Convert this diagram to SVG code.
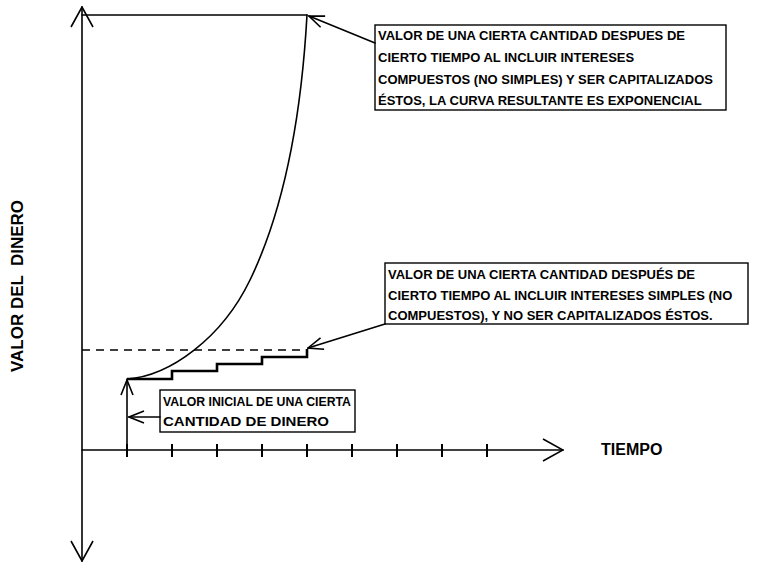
<svg xmlns="http://www.w3.org/2000/svg" width="760" height="564" viewBox="0 0 760 564">
<style>
.ln{fill:none;stroke:#000;stroke-width:1.6;stroke-linecap:round}
.box{fill:#fff;stroke:#000;stroke-width:1.4}
.t{font-family:"Liberation Sans",Arial,sans-serif;font-weight:bold;font-size:13px;fill:#000}
.big{font-size:16px}
.mid{font-size:13.5px}
.tick{stroke:#000;stroke-width:2}
</style>
<defs>
<marker id="ax" viewBox="0 0 22 24" refX="21" refY="12" markerWidth="22" markerHeight="24" orient="auto-start-reverse" markerUnits="userSpaceOnUse">
<path d="M1,1 L21,12 L1,23" fill="none" stroke="#000" stroke-width="1.6"/>
</marker>
<marker id="ar" viewBox="0 0 17 14" refX="16" refY="7" markerWidth="17" markerHeight="14" orient="auto" markerUnits="userSpaceOnUse">
<path d="M1,1 L16,7 L1,13" fill="none" stroke="#000" stroke-width="1.6"/>
</marker>
</defs>
<rect width="760" height="564" fill="#fff"/>

<g id="axes">
<line class="ln" x1="82" y1="561" x2="82" y2="7" marker-start="url(#ax)" marker-end="url(#ax)"/>
<line class="ln" x1="82" y1="450" x2="563" y2="450" marker-end="url(#ax)"/>
<g class="tick">
<line x1="127" y1="444" x2="127" y2="457"/>
<line x1="172" y1="444" x2="172" y2="457"/>
<line x1="217" y1="444" x2="217" y2="457"/>
<line x1="262" y1="444" x2="262" y2="457"/>
<line x1="307" y1="444" x2="307" y2="457"/>
<line x1="352" y1="444" x2="352" y2="457"/>
<line x1="397" y1="444" x2="397" y2="457"/>
<line x1="442" y1="444" x2="442" y2="457"/>
<line x1="487" y1="444" x2="487" y2="457"/>
</g>
<text class="t big" x="601" y="455">TIEMPO</text>
<text class="t big" transform="translate(23,286) rotate(-90)" text-anchor="middle" style="white-space:pre" textLength="172" lengthAdjust="spacingAndGlyphs">VALOR DEL  DINERO</text>
</g>

<g id="compound-curve">
<line class="ln" x1="82" y1="15" x2="307" y2="15"/>
<path class="ln" d="M127,379 C170,376 222,338 250,280 C278,222 300,140 307,15"/>
</g>

<g id="simple-steps">
<line x1="82" y1="350" x2="307" y2="350" stroke="#000" stroke-width="1.4" stroke-dasharray="8,6"/>
<path d="M127,379 H172 V371 H217 V364 H262 V357 H307 V349" fill="none" stroke="#000" stroke-width="2.6"/>
</g>

<g id="box-compuesto">
<rect class="box" x="375" y="25" width="351" height="85"/>
<text class="t" x="378" y="40">VALOR DE UNA CIERTA CANTIDAD DESPUES DE</text>
<text class="t" x="378" y="62">CIERTO TIEMPO AL INCLUIR INTERESES</text>
<text class="t" x="378" y="84">COMPUESTOS (NO SIMPLES) Y SER CAPITALIZADOS</text>
<text class="t" x="378" y="105">ÉSTOS, LA CURVA RESULTANTE ES EXPONENCIAL</text>
</g>

<g id="box-simple">
<rect class="box" x="385" y="263" width="363" height="61"/>
<text class="t" x="388" y="279">VALOR DE UNA CIERTA CANTIDAD DESPUÉS DE</text>
<text class="t" x="388" y="300">CIERTO TIEMPO AL INCLUIR INTERESES SIMPLES (NO</text>
<text class="t" x="388" y="320">COMPUESTOS), Y NO SER CAPITALIZADOS ÉSTOS.</text>
</g>

<g id="box-inicial">
<rect class="box" x="160" y="390" width="195" height="42"/>
<text class="t mid" x="163" y="406" textLength="188" lengthAdjust="spacingAndGlyphs">VALOR INICIAL DE UNA CIERTA</text>
<text class="t mid" x="163" y="426" textLength="166" lengthAdjust="spacingAndGlyphs">CANTIDAD DE DINERO</text>
</g>

<g id="connectors">
<line class="ln" x1="375" y1="43" x2="309" y2="16" marker-end="url(#ar)"/>
<line class="ln" x1="385" y1="324" x2="308" y2="348" marker-end="url(#ar)"/>
<line class="ln" x1="160" y1="417" x2="129" y2="417" marker-end="url(#ar)"/>
<line class="ln" x1="127" y1="450" x2="127" y2="380" marker-end="url(#ar)"/>
</g>
</svg>
